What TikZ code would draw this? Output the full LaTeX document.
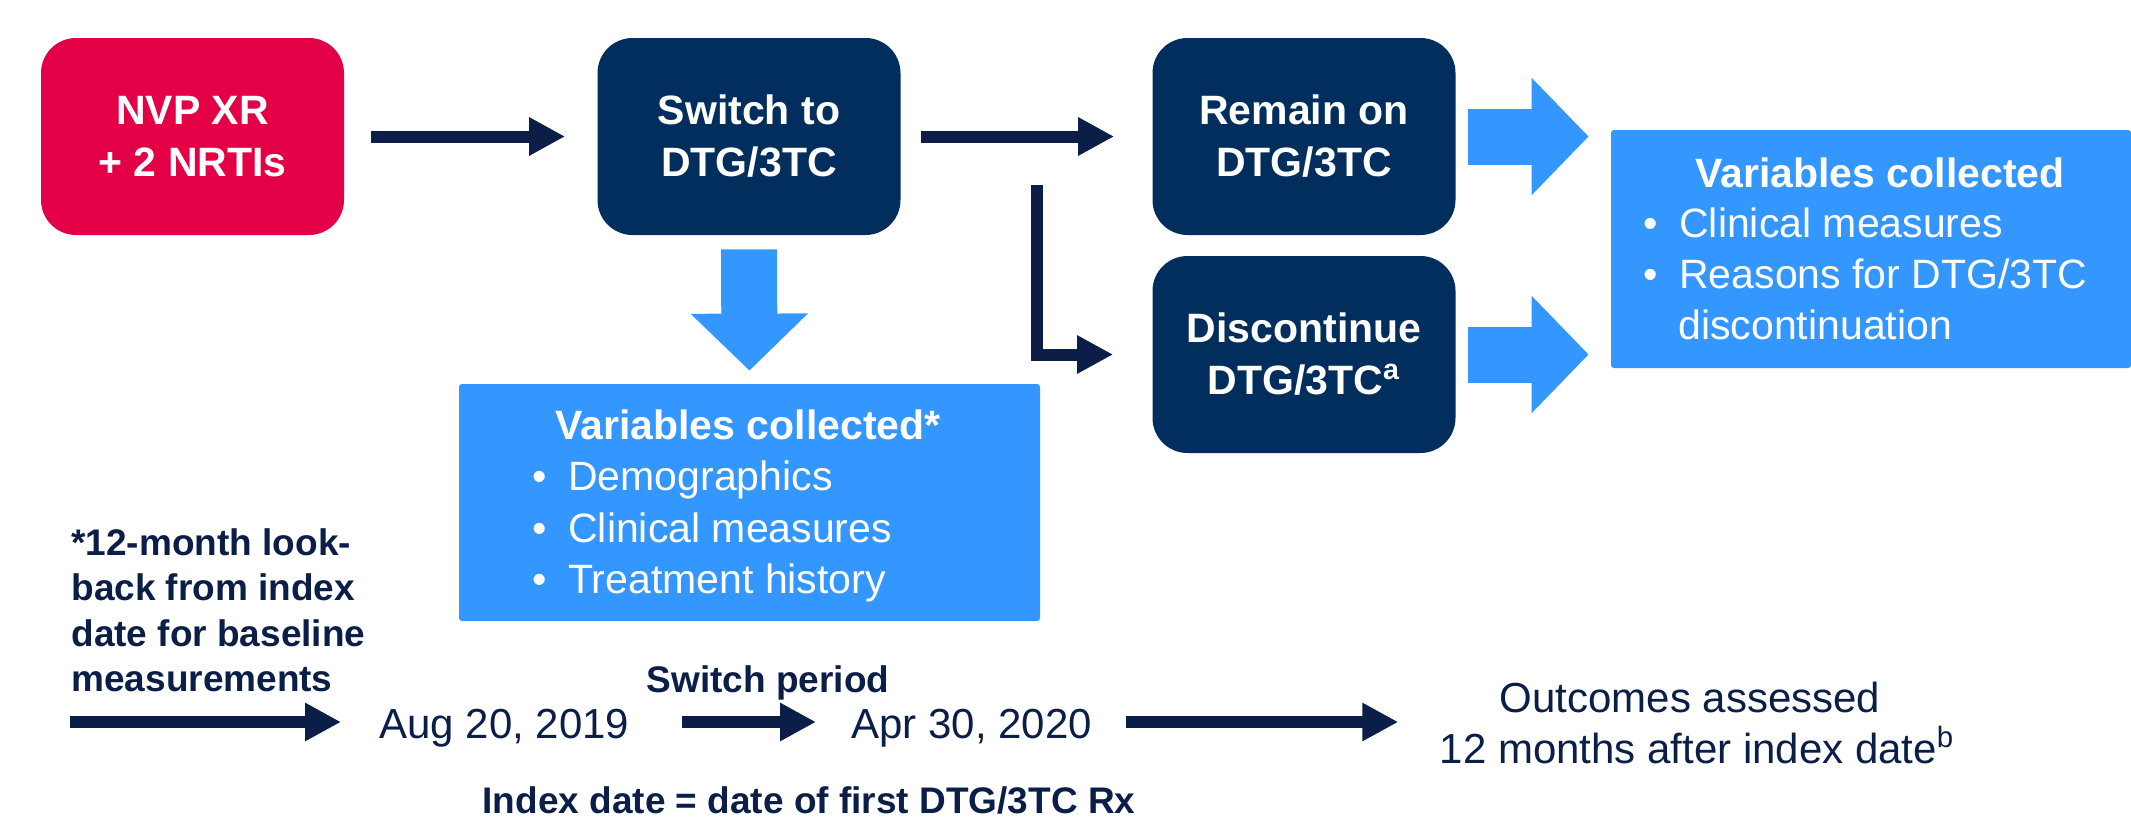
\documentclass[tikz,border=0pt]{standalone}
\usepackage{fontspec}
\setmainfont{Liberation Sans}
\usetikzlibrary{arrows.meta}
\definecolor{cred}{HTML}{E30046}
\definecolor{cbox}{HTML}{022E5D}
\definecolor{carrow}{HTML}{0A1E48}
\definecolor{cblue}{HTML}{3397FF}
\begin{document}
\begin{tikzpicture}[x=0.5pt,y=-0.5pt,
  flowbox/.style={rounded corners=17.5pt, minimum width=151.5pt, minimum height=98.5pt,
    inner sep=0pt, text=white, font=\fontsize{20.5}{26}\selectfont\bfseries, align=center},
  redbox/.style={flowbox, fill=cred},
  navybox/.style={flowbox, fill=cbox},
  varbox/.style={fill=cblue, rounded corners=1.5pt, inner sep=0pt},
  vtitle/.style={inner sep=0pt, anchor=base, text=white, font=\fontsize{20.5}{26}\selectfont\bfseries},
  vitem/.style={inner sep=0pt, anchor=base west, text=white, font=\fontsize{20.5}{26}\selectfont},
  tbold/.style={inner sep=0pt, text=carrow, font=\fontsize{18.5}{22.5}\selectfont\bfseries},
  treg/.style={inner sep=0pt, text=carrow, font=\fontsize{21}{25.5}\selectfont},
  navyarr/.style={draw=carrow, line width=6pt, -{Triangle[length=18pt,width=18pt]}},
  bluearr/.style={draw=cblue, line width=28pt, -{Triangle[length=28.5pt,width=57pt]}}
]
\useasboundingbox (0,0) rectangle (2131,819);

% main boxes
\node[redbox]  (red)    at (192.5,136.5) {NVP XR\\+ 2 NRTIs};
\node[navybox] (switch) at (749,136.5)   {Switch to\\DTG/3TC};
\node[navybox] (remain) at (1304,136.5)  {Remain on\\DTG/3TC};
\node[navybox] (disc)   at (1304,354.5)  {Discontinue\\DTG/3TC\textsuperscript{a}};

% variable boxes
\node[varbox, minimum width=290.5pt, minimum height=118.5pt] (vars1) at (749.5,502.5) {};
\node[varbox, minimum width=260pt, minimum height=119pt] (vars2) at (1871,249) {};

\node[vtitle] (v1t) at (748,439) {Variables collected*};
\node[vitem] (v1a) at (532,490) {\makebox[18pt][l]{•}Demographics};
\node[vitem] (v1b) at (532,542) {\makebox[18pt][l]{•}Clinical measures};
\node[vitem] (v1c) at (532,593) {\makebox[18pt][l]{•}Treatment history};

\node[vtitle] (v2t) at (1880,187) {Variables collected};
\node[vitem] (v2a) at (1643,237) {\makebox[18pt][l]{•}Clinical measures};
\node[vitem] (v2b) at (1643,288) {\makebox[18pt][l]{•}Reasons for DTG/3TC};
\node[vitem] (v2c) at (1678,339) {discontinuation};

% connectors top
\draw[navyarr, shorten <=13.5pt, shorten >=16pt] (red.east) -- (switch.west);
\draw[navyarr, shorten <=10pt, shorten >=19pt] (switch.east) -- (remain.west);
\coordinate (elb) at (1037,185);
\draw[navyarr, shorten >=19.5pt] (elb) |- (disc.west);

\draw[bluearr, shorten <=7pt, shorten >=6.5pt] (switch.south) -- (vars1.north);
\draw[bluearr, shorten <=6pt, shorten >=11pt] (remain.east) -- (remain.east -| vars2.west);
\draw[bluearr, shorten <=6pt, shorten >=11pt] (disc.east) -- (disc.east -| vars2.west);

% footnote text
\node[tbold, anchor=base west] (f1) at (71,555) {*12-month look-};
\node[tbold, anchor=base west] (f2) at (71,600) {back from index};
\node[tbold, anchor=base west] (f3) at (71,646) {date for baseline};
\node[tbold, anchor=base west] (f4) at (71,691) {measurements};

% timeline
\coordinate (tl0) at (70,722);
\node[treg, anchor=base west] (date1) at (379,738) {Aug 20, 2019};
\node[treg, anchor=base west] (date2) at (851,738) {Apr 30, 2020};
\node[tbold, anchor=base] (swp) at (768,692) {Switch period};
\node[treg, anchor=base] (out1) at (1690,712) {Outcomes assessed};
\node[treg, anchor=base] (out2) at (1697,763) {12 months after index date\textsuperscript{b}};
\node[tbold, anchor=base] (idx) at (809,813) {Index date = date of first DTG/3TC Rx};

\draw[navyarr, shorten >=19pt] (tl0) -- (tl0 -| date1.west);
\draw[navyarr, shorten <=26pt, shorten >=17.5pt] (date1.east |- tl0) -- (date2.west |- tl0);
\draw[navyarr, shorten <=17pt, shorten >=20.5pt] (date2.east |- tl0) -- (out2.west |- tl0);
\end{tikzpicture}
\end{document}
